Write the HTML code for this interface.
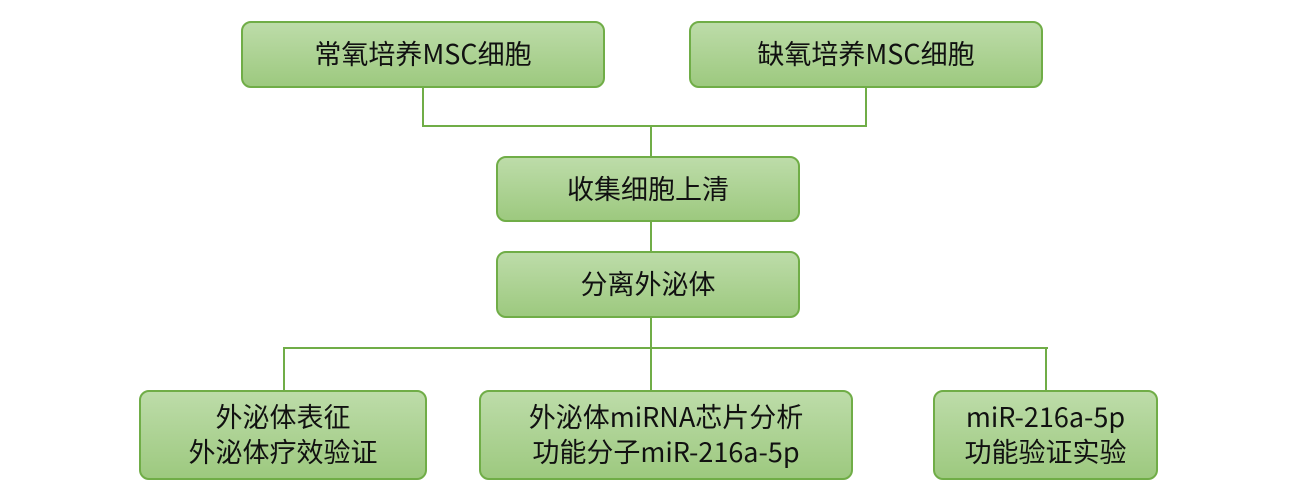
<!DOCTYPE html>
<html><head><meta charset="utf-8"><style>
body{margin:0;width:1304px;height:502px;background:#fff;position:relative;overflow:hidden;font-family:"Noto Sans CJK SC","Liberation Sans",sans-serif;}
.b{position:absolute;box-sizing:border-box;border:2px solid #70ad47;border-radius:10px;background:linear-gradient(#bddca9,#9dc97f);display:flex;align-items:center;justify-content:center;text-align:center;font-size:27px;line-height:35px;color:#111;padding-bottom:4px;}
.l{position:absolute;background:#70ad47;}
</style></head><body>
<div class="l" style="left:422px;top:87px;width:2px;height:40px"></div>
<div class="l" style="left:865px;top:87px;width:2px;height:40px"></div>
<div class="l" style="left:422px;top:125px;width:445px;height:2px"></div>
<div class="l" style="left:650px;top:125px;width:2px;height:33px"></div>
<div class="l" style="left:650px;top:220px;width:2px;height:33px"></div>
<div class="l" style="left:650px;top:316px;width:2px;height:76px"></div>
<div class="l" style="left:283px;top:347px;width:765px;height:2px"></div>
<div class="l" style="left:283px;top:347px;width:2px;height:45px"></div>
<div class="l" style="left:1045px;top:347px;width:2px;height:45px"></div>
<div class="b" style="left:241px;top:21px;width:364px;height:67px">常氧培养MSC细胞</div>
<div class="b" style="left:689px;top:21px;width:354px;height:67px">缺氧培养MSC细胞</div>
<div class="b" style="left:496px;top:156px;width:304px;height:66px">收集细胞上清</div>
<div class="b" style="left:496px;top:251px;width:304px;height:67px">分离外泌体</div>
<div class="b" style="left:139px;top:390px;width:288px;height:90px">外泌体表征<br>外泌体疗效验证</div>
<div class="b" style="left:479px;top:390px;width:374px;height:90px">外泌体miRNA芯片分析<br>功能分子miR-216a-5p</div>
<div class="b" style="left:933px;top:390px;width:225px;height:90px">miR-216a-5p<br>功能验证实验</div>
</body></html>
